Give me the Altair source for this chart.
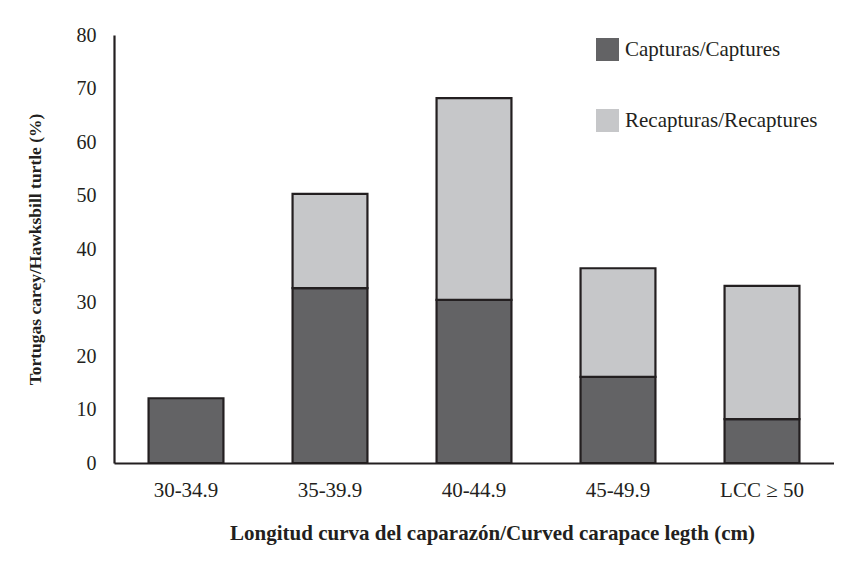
import altair as alt
import pandas as pd

categories = ["30-34.9", "35-39.9", "40-44.9", "45-49.9", "LCC \u2265 50"]
capturas = [12.1, 32.7, 30.5, 16.1, 8.2]
recapturas = [0.0, 17.6, 37.7, 20.3, 24.9]
series = ["Capturas/Captures", "Recapturas/Recaptures"]
colors = ["#636365", "#c6c7c9"]

rows = []
for c, a, b in zip(categories, capturas, recapturas):
    rows.append({"cat": c, "serie": series[0], "val": a, "ord": 0})
    if b > 0:
        rows.append({"cat": c, "serie": series[1], "val": b, "ord": 1})
df = pd.DataFrame(rows)

FONT = "Liberation Serif"

chart = alt.Chart(df).mark_bar(
    stroke="#231f20", strokeWidth=2.2
).encode(
    x=alt.X("cat:N", sort=categories,
            scale=alt.Scale(paddingInner=0.48, paddingOuter=0.24),
            axis=alt.Axis(title="Longitud curva del caparazón/Curved carapace legth (cm)",
                          labelAngle=0, ticks=False, domainColor="#231f20",
                          domainWidth=2.2, labelFontSize=21, labelPadding=16,
                          labelColor="#231f20", titleColor="#231f20",
                          titleFontSize=21, titleFontWeight="bold", titlePadding=22,
                          titleX=378, titleAlign="center")),
    y=alt.Y("val:Q", stack="zero",
            scale=alt.Scale(domain=[0, 80], nice=False),
            axis=alt.Axis(title="Tortugas carey/Hawksbill turtle (%)",
                          values=[0, 10, 20, 30, 40, 50, 60, 70, 80],
                          ticks=False, grid=False, domainColor="#231f20",
                          domainWidth=2.2, labelFontSize=20, labelPadding=18,
                          labelColor="#231f20", titleColor="#231f20",
                          titleFontSize=17.5, titleFontWeight="bold", titlePadding=32)),
    color=alt.Color("serie:N", scale=alt.Scale(domain=series, range=colors),
                    legend=alt.Legend(title=None, orient="none", legendX=482, legendY=3,
                                      symbolType="square", symbolSize=529,
                                      symbolStrokeWidth=0, labelFontSize=21,
                                      labelLimit=400,
                                      labelColor="#231f20", rowPadding=48,
                                      labelOffset=6)),
    order=alt.Order("ord:Q"),
).properties(
    width=720, height=428,
    autosize=alt.AutoSizeParams(type="none"),
    padding={"left": 106, "top": 27, "right": 0, "bottom": 85},
).configure(
    font=FONT,
).configure_view(
    stroke=None,
)

chart.save("out.html", embed_options={"renderer": "svg", "actions": False})
